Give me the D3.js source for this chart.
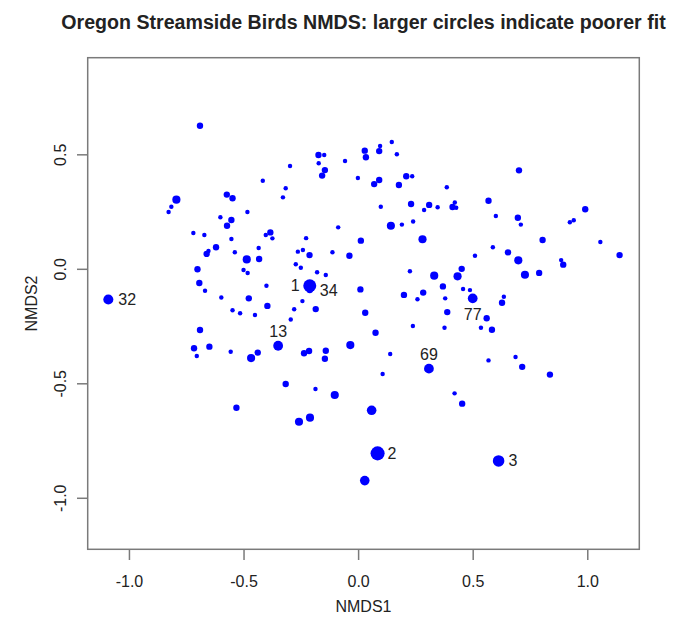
<!DOCTYPE html>
<html>
<head>
<meta charset="utf-8">
<script src="https://cdn.jsdelivr.net/npm/d3@7"></script>
<style>
  body { margin: 0; background: #fff; }
  text { font-family: "Liberation Sans", Arial, sans-serif; fill: #222; }
</style>
</head>
<body>
<div id="scatter"></div>
<script>
// site scores (NMDS1, NMDS2) and goodness of fit
var nmds1 = [-0.690, -0.173, -0.148, -0.172, -0.145, -0.157, -0.057, 0.029, 0.034, 0.092,
  -0.297, -0.416, -0.316, -0.328, -0.001, 0.070, 0.092, -0.793, -0.815, -0.827,
  -0.573, -0.548, -0.483, -0.601, -0.553, -0.572, -0.719, -0.671, -0.553, -0.620,
  -0.653, -0.661, -0.538, -0.403, -0.383, -0.374, -0.434, -0.486, -0.432, -0.701,
  -0.693, -0.668, -0.597, -0.477, -0.500, -0.482, -0.400, -0.272, -0.250, -0.227,
  -0.263, -0.241, -0.212, -0.179, -0.141, -0.243, -0.087, -0.112, -0.038, 0.012,
  0.010, 0.099,
  0.096, 0.147, 0.169, 0.210, 0.236, 0.178, 0.387, 0.231, 0.288, 0.310,
  0.347, 0.422, 0.412, 0.428, 0.569, 0.702, 0.601, 0.697, 0.710, 0.991,
  0.924, 0.941, 1.057, 1.141, 0.805, 0.886, 0.895, 0.790, 0.728, 0.699,
  0.654, 0.588, 0.510, 0.452, 0.434, 0.332, 0.370, 0.226, 0.281, 0.143,
  0.191, 0.240, 0.200, 0.284, 0.259, 0.380, 0.458, 0.488,
  -0.548, -0.515, -0.450, -0.396, -0.279, -0.185, -0.294, 0.031, -0.690, -0.716,
  -0.704, -0.649, -0.556, -0.467, -0.438, -0.236, -0.214, -0.141, -0.145, -0.034,
  0.076, -0.316, -0.186, -0.102, -0.531, -0.258, -0.210, 0.059, 0.029, 0.107,
  0.636, 0.628, 0.389, 0.561, 0.536, 0.584, 0.239, 0.377, 0.140, 0.569,
  0.687, 0.716, 0.837, 0.421, 0.454];
var nmds2 = [0.625, 0.497, 0.497, 0.461, 0.431, 0.407, 0.471, 0.516, 0.487, 0.514,
  0.449, 0.385, 0.352, 0.312, 0.397, 0.370, 0.388, 0.302, 0.271, 0.248,
  0.324, 0.308, 0.248, 0.225, 0.213, 0.188, 0.156, 0.148, 0.130, 0.094,
  0.078, 0.065, 0.072, 0.148, 0.159, 0.133, 0.091, 0.041, 0.043, -0.002,
  -0.062, -0.096, -0.125, -0.129, -0.005, -0.018, -0.074, 0.020, 0.005, 0.134,
  0.075, 0.082, 0.060, -0.015, -0.027, -0.141, 0.181, 0.072, 0.057, 0.123,
  -0.090, 0.271,
  0.536, 0.554, 0.500, 0.404, 0.404, 0.366, 0.356, 0.283, 0.257, 0.279,
  0.269, 0.290, 0.270, 0.267, 0.297, 0.430, 0.231, 0.223, 0.193, 0.260,
  0.203, 0.212, 0.117, 0.060, 0.126, 0.038, 0.018, -0.018, -0.026, 0.037,
  0.072, 0.094, 0.057, 0.000, -0.033, -0.030, -0.077, -0.011, 0.129, 0.188,
  0.193, 0.207, -0.114, -0.104, -0.133, -0.129, -0.088, -0.093,
  -0.181, -0.194, -0.202, -0.162, -0.177, -0.176, -0.221, -0.192, -0.267, -0.347,
  -0.381, -0.340, -0.362, -0.390, -0.366, -0.369, -0.359, -0.358, -0.393, -0.333,
  -0.279, -0.503, -0.525, -0.551, -0.607, -0.668, -0.650, -0.618, -0.925, -0.459,
  -0.122, -0.148, -0.189, -0.216, -0.257, -0.266, -0.250, -0.257, -0.372, -0.400,
  -0.385, -0.428, -0.462, -0.544, -0.589];
var gof = [0.043, 0.043, 0.03, 0.03, 0.043, 0.043, 0.03, 0.043, 0.043, 0.043,
  0.03, 0.03, 0.03, 0.03, 0.03, 0.043, 0.043, 0.055, 0.03, 0.03,
  0.043, 0.043, 0.03, 0.03, 0.043, 0.043, 0.03, 0.03, 0.03, 0.043,
  0.03, 0.043, 0.03, 0.03, 0.043, 0.03, 0.03, 0.055, 0.043, 0.043,
  0.043, 0.03, 0.03, 0.043, 0.03, 0.03, 0.03, 0.03, 0.03, 0.03,
  0.03, 0.03, 0.043, 0.03, 0.03, 0.03, 0.03, 0.03, 0.043, 0.043,
  0.043, 0.03,
  0.03, 0.03, 0.03, 0.043, 0.03, 0.043, 0.03, 0.043, 0.03, 0.043,
  0.03, 0.03, 0.043, 0.03, 0.043, 0.043, 0.03, 0.043, 0.03, 0.043,
  0.03, 0.03, 0.03, 0.043, 0.043, 0.03, 0.043, 0.043, 0.055, 0.055,
  0.043, 0.03, 0.03, 0.043, 0.055, 0.055, 0.043, 0.03, 0.055, 0.055,
  0.03, 0.03, 0.043, 0.043, 0.03, 0.03, 0.03, 0.03,
  0.03, 0.03, 0.03, 0.043, 0.03, 0.043, 0.03, 0.043, 0.043, 0.043,
  0.03, 0.043, 0.03, 0.055, 0.043, 0.043, 0.043, 0.043, 0.043, 0.055,
  0.043, 0.043, 0.03, 0.055, 0.043, 0.055, 0.055, 0.065, 0.065, 0.03,
  0.03, 0.043, 0.043, 0.043, 0.03, 0.043, 0.03, 0.03, 0.03, 0.03,
  0.03, 0.043, 0.043, 0.03, 0.043];

// identified sites; pos follows R's text(pos=): 1 below, 2 left, 3 above, 4 right
var labelText = ["32", "34", "1", "13", "69", "77", "2", "3"];
var labelX = [-1.090, -0.211, -0.211, -0.349, 0.309, 0.500, 0.085, 0.613];
var labelY = [-0.134, -0.093, -0.074, -0.336, -0.436, -0.129, -0.806, -0.839];
var labelGof = [0.068, 0.043, 0.088, 0.066, 0.066, 0.066, 0.095, 0.078];
var labelPos = [4, 4, 2, 3, 3, 1, 4, 4];

var xTicks = [-1.0, -0.5, 0.0, 0.5, 1.0];
var yTicks = [-1.0, -0.5, 0.0, 0.5];

var svgWidth = 675, svgHeight = 629;
var margin = { top: 57.7, right: 35.7, bottom: 79.7, left: 87.7 };
var width = svgWidth - margin.left - margin.right;
var height = svgHeight - margin.top - margin.bottom;

var svg = d3.select("#scatter").append("svg")
  .attr("width", svgWidth)
  .attr("height", svgHeight);

var chartGroup = svg.append("g")
  .attr("transform", `translate(${margin.left}, ${margin.top})`);

var xScale = d3.scaleLinear().domain([-1.18, 1.227]).range([0, width]);
var yScale = d3.scaleLinear().domain([-1.225, 0.922]).range([height, 0]);
var rScale = d3.scaleLinear().domain([0, 0.1]).range([0, 7.4]);

var axisColor = "#7a7a7a";
var fmt = d => d.toFixed(1);

var xAxis = chartGroup.append("g")
  .attr("transform", `translate(0, ${height})`)
  .call(d3.axisBottom(xScale).tickValues(xTicks).tickSize(10.7).tickFormat(fmt));
var yAxis = chartGroup.append("g")
  .call(d3.axisLeft(yScale).tickValues(yTicks).tickSize(10.7).tickFormat(fmt));

[xAxis, yAxis].forEach(function(ax) {
  ax.select(".domain").remove();
  ax.selectAll("line").attr("stroke", axisColor).attr("stroke-width", 1.5);
  ax.selectAll("text")
    .attr("font-family", "Liberation Sans, Arial, sans-serif")
    .attr("font-size", "16px")
    .attr("fill", "#222")
    .attr("dominant-baseline", "central");
});
xAxis.selectAll("text").attr("y", 32.4).attr("dy", null);
yAxis.selectAll("text")
  .attr("transform", "rotate(-90)")
  .attr("text-anchor", "middle")
  .attr("x", 0)
  .attr("y", -27.2)
  .attr("dy", null);

// plot box
chartGroup.append("rect")
  .attr("width", width)
  .attr("height", height)
  .attr("fill", "none")
  .attr("stroke", axisColor)
  .attr("stroke-width", 1.5);

// sites
var points = nmds1.map((d, i) => ({ x: d, y: nmds2[i], gof: gof[i] }));
var labelled = labelText.map((t, i) => ({ x: labelX[i], y: labelY[i], gof: labelGof[i], text: t, pos: labelPos[i] }));

chartGroup.append("g")
  .selectAll("circle")
  .data(points.concat(labelled))
  .enter()
  .append("circle")
  .attr("cx", d => xScale(d.x))
  .attr("cy", d => yScale(d.y))
  .attr("r", d => rScale(d.gof))
  .attr("fill", "#0000ff");

chartGroup.append("g")
  .selectAll("text")
  .data(labelled)
  .enter()
  .append("text")
  .text(d => d.text)
  .attr("x", function(d) {
    var cx = xScale(d.x);
    if (d.pos == 2) return cx - 10;
    if (d.pos == 4) return cx + 10;
    return cx;
  })
  .attr("y", function(d) {
    var cy = yScale(d.y);
    if (d.pos == 1) return cy + 16.5;
    if (d.pos == 3) return cy - 14.5;
    return cy;
  })
  .attr("text-anchor", d => d.pos == 2 ? "end" : (d.pos == 4 ? "start" : "middle"))
  .attr("dominant-baseline", "central")
  .attr("font-size", "16px");

// titles
svg.append("text")
  .attr("x", margin.left + width / 2)
  .attr("y", 22)
  .attr("text-anchor", "middle")
  .attr("dominant-baseline", "central")
  .attr("font-size", "19.6px")
  .attr("font-weight", "bold")
  .text("Oregon Streamside Birds NMDS: larger circles indicate poorer fit");

svg.append("text")
  .attr("x", margin.left + width / 2)
  .attr("y", 606)
  .attr("text-anchor", "middle")
  .attr("dominant-baseline", "central")
  .attr("font-size", "16px")
  .text("NMDS1");

svg.append("text")
  .attr("transform", `translate(31, ${margin.top + height / 2}) rotate(-90)`)
  .attr("text-anchor", "middle")
  .attr("dominant-baseline", "central")
  .attr("font-size", "16px")
  .text("NMDS2");
</script>
</body>
</html>
